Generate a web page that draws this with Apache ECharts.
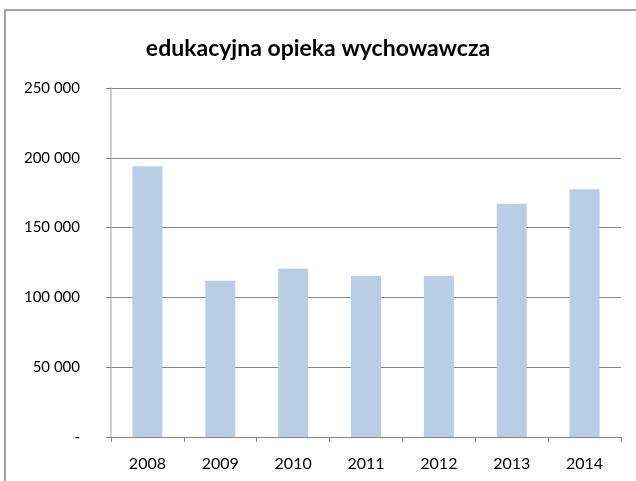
<!DOCTYPE html>
<html>
<head>
<meta charset="utf-8">
<script src="https://cdn.jsdelivr.net/npm/echarts@6/dist/echarts.min.js"></script>
<style>
  html, body { margin: 0; padding: 0; background: #fff; }
  #chart { width: 636px; height: 481px; }
</style>
</head>
<body>
<div id="chart"></div>
<script>
// dane
const years = ['2008', '2009', '2010', '2011', '2012', '2013', '2014'];
const values = [194000, 112000, 120500, 115500, 115500, 167000, 177500];
const yTicks = [0, 50000, 100000, 150000, 200000, 250000];

const chart = echarts.init(document.getElementById('chart'));

// format "250 000", zero jako "-"
const fmt = (v) => v === 0 ? '-' : String(v).replace(/\B(?=(\d{3})+(?!\d))/g, ' ');

const option = {
  animation: false,
  textStyle: { fontFamily: 'Lato' },
  title: {
    text: 'edukacyjna opieka wychowawcza',
    left: 'center',
    top: 32,
    textStyle: { fontSize: 23, fontWeight: 'bold', color: '#000', fontFamily: 'Lato' }
  },
  graphic: [{
    type: 'rect',
    shape: { x: 5, y: 10, width: 640, height: 480 },
    style: { fill: 'none', stroke: '#868686', lineWidth: 1.5 },
    silent: true
  }],
  grid: { left: 111, right: 15, top: 88, bottom: 44 },
  xAxis: {
    type: 'category',
    data: years,
    axisLine: { lineStyle: { color: '#868686' } },
    axisTick: { show: true, length: 5, lineStyle: { color: '#868686' } },
    axisLabel: { color: '#000', fontSize: 16, margin: 19 }
  },
  yAxis: {
    type: 'value',
    min: yTicks[0],
    max: yTicks[yTicks.length - 1],
    interval: yTicks[1] - yTicks[0],
    axisLine: { show: true, lineStyle: { color: '#BFBFBF', width: 1.5 } },
    axisTick: { show: true, length: 5, lineStyle: { color: '#868686' } },
    axisLabel: { color: '#000', fontSize: 15, margin: 31, formatter: fmt },
    splitLine: { show: true, lineStyle: { color: '#868686' } }
  },
  series: [{
    type: 'bar',
    data: values,
    barWidth: 30,
    itemStyle: { color: '#B9CDE5' }
  }]
};

chart.setOption(option);
</script>
</body>
</html>
